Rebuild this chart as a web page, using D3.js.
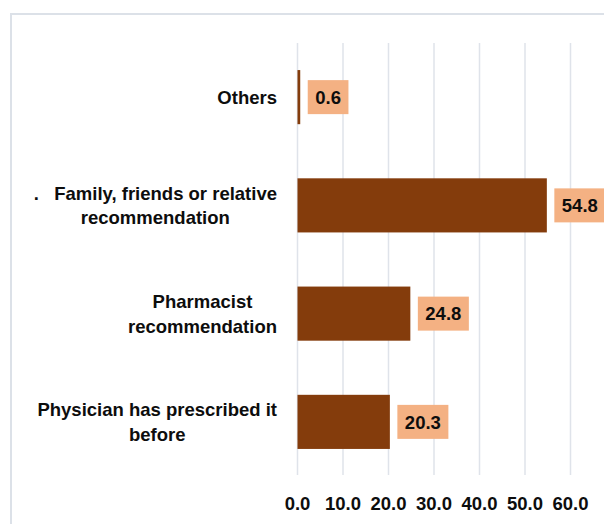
<!DOCTYPE html>
<html>
<head>
<meta charset="utf-8">
<script src="https://cdn.jsdelivr.net/npm/d3@7"></script>
<style>
  body { margin: 0; background: #fff; }
  svg { display: block; }
  text { font-family: "Liberation Sans", Arial, sans-serif; font-weight: bold; fill: #0d0d0d; }
</style>
</head>
<body>
<svg></svg>
<script>
const width = 604
const height = 524

// categories top to bottom, each split in the lines shown
const categories = ['Others', 'Family', 'Pharmacist', 'Physician']
const categoryLines = [
	['Others'],
	['.   Family, friends or relative', 'recommendation'],
	['Pharmacist', 'recommendation'],
	['Physician has prescribed it', 'before']
]
const values = [0.6, 54.8, 24.8, 20.3]
const ticks = [0, 10, 20, 30, 40, 50, 60]

const svg = d3.select('svg')
	.attr('width', width)
	.attr('height', height)

// chart frame, runs off the right and bottom edge
svg.append('rect')
	.attr('x', 11)
	.attr('y', 14)
	.attr('width', 700)
	.attr('height', 600)
	.attr('fill', 'none')
	.attr('stroke', '#dce1e8')
	.attr('stroke-width', 2)

const x = d3.scaleLinear()
	.domain([0, 60])
	.range([297.5, 570.5])

const y = d3.scaleBand()
	.domain(categories)
	.range([43, 476])
	.paddingInner(0.5)
	.paddingOuter(0.25)

// gridlines
svg.append('g')
	.selectAll('line')
	.data(ticks)
	.enter()
	.append('line')
	.attr('x1', d => x(d))
	.attr('x2', d => x(d))
	.attr('y1', 43)
	.attr('y2', 475)
	.attr('stroke', '#dfe3ea')
	.attr('stroke-width', 1.5)

// tick labels
svg.append('g')
	.selectAll('text')
	.data(ticks)
	.enter()
	.append('text')
	.attr('x', d => x(d))
	.attr('y', 510)
	.attr('text-anchor', 'middle')
	.attr('font-size', 18.5)
	.text(d => d.toFixed(1))

// bars
svg.append('g')
	.selectAll('rect')
	.data(values)
	.enter()
	.append('rect')
	.attr('x', x(0))
	.attr('y', (d, i) => y(categories[i]))
	.attr('width', d => x(d) - x(0))
	.attr('height', y.bandwidth())
	.attr('fill', '#843c0c')

// data labels with orange boxes
const labels = svg.append('g')
	.selectAll('g')
	.data(values)
	.enter()
	.append('g')

labels.each(function (d, i) {
	const g = d3.select(this)
	const cy = y(categories[i]) + y.bandwidth() / 2
	const box = g.append('rect')
	const t = g.append('text')
		.attr('font-size', 18.5)
		.attr('y', cy)
		.attr('dy', '0.36em')
		.text(d.toFixed(1))
	const tw = t.node().getComputedTextLength()
	const bx = x(d) + 7.5
	box.attr('x', bx)
		.attr('y', cy - 17)
		.attr('width', tw + 15)
		.attr('height', 34)
		.attr('fill', '#f4b183')
	t.attr('x', bx + 7.5)
})

// category labels, block centred with widest line ending at 277
svg.append('g')
	.selectAll('text')
	.data(categoryLines)
	.enter()
	.append('text')
	.attr('font-size', 18.5)
	.attr('text-anchor', 'middle')
	.style('white-space', 'pre')
	.each(function (lines, i) {
		const t = d3.select(this)
		const cy = y(categories[i]) + y.bandwidth() / 2
		const spans = lines.map(function (line, j) {
			return t.append('tspan')
				.attr('y', lines.length === 1 ? cy + 7 : cy - 5.5 + j * 24.5)
				.text(line)
		})
		const maxW = d3.max(spans, s => s.node().getComputedTextLength())
		spans.forEach(s => s.attr('x', 277 - maxW / 2))
	})
</script>
</body>
</html>
